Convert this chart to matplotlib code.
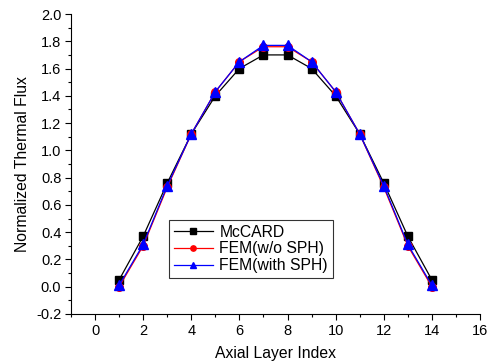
import numpy as np
import matplotlib.pyplot as plt
from matplotlib.ticker import MultipleLocator

plt.rcParams['font.family'] = ['Liberation Sans', 'DejaVu Sans']

# axial layers and normalized flux values
layers = np.arange(1, 15)
mccard = [0.05, 0.37, 0.76, 1.12, 1.40, 1.60, 1.70, 1.70, 1.60, 1.40, 1.12, 0.76, 0.37, 0.05]
fem_wo_sph = [0.00, 0.30, 0.73, 1.12, 1.43, 1.65, 1.76, 1.76, 1.65, 1.43, 1.12, 0.73, 0.30, 0.00]
fem_with_sph = [0.01, 0.31, 0.74, 1.12, 1.43, 1.65, 1.77, 1.77, 1.65, 1.43, 1.12, 0.74, 0.31, 0.01]

fig = plt.figure(figsize=(4.92, 3.64), dpi=100)
ax = fig.add_axes([0.1443, 0.1374, 0.8313, 0.8241])

ax.plot(layers, mccard, color='black', marker='s', markersize=5.5, lw=0.9, label='McCARD')
ax.plot(layers, fem_wo_sph, color='red', marker='o', markersize=5.5, lw=0.9, label='FEM(w/o SPH)')
ax.plot(layers, fem_with_sph, color='blue', marker='^', markersize=7, lw=0.9, label='FEM(with SPH)')

ax.set_xlim(-1, 16)
ax.set_ylim(-0.2, 2.0)
ax.xaxis.set_major_locator(MultipleLocator(2))
ax.xaxis.set_minor_locator(MultipleLocator(1))
ax.yaxis.set_major_locator(MultipleLocator(0.2))
ax.yaxis.set_minor_locator(MultipleLocator(0.1))
ax.yaxis.set_major_formatter(plt.FormatStrFormatter('%.1f'))

ax.spines['top'].set_visible(False)
ax.spines['right'].set_visible(False)
ax.tick_params(which='major', direction='out', length=4, width=0.8, labelsize=10.5, pad=3)
ax.tick_params(which='minor', direction='out', length=2.5, width=0.8)

ax.set_xlabel('Axial Layer Index', fontsize=11.3, labelpad=6)
ax.set_ylabel('Normalized Thermal Flux', fontsize=11.3, labelpad=4)

leg = ax.legend(loc='lower left', bbox_to_anchor=(0.24, 0.12), fontsize=11.3,
                frameon=True, fancybox=False, edgecolor='black',
                handlelength=2.5, borderpad=0.3, labelspacing=0.12,
                handletextpad=0.4, borderaxespad=0, markerscale=0.7)
leg.get_frame().set_linewidth(0.8)

fig.savefig('out.png', dpi=100)
